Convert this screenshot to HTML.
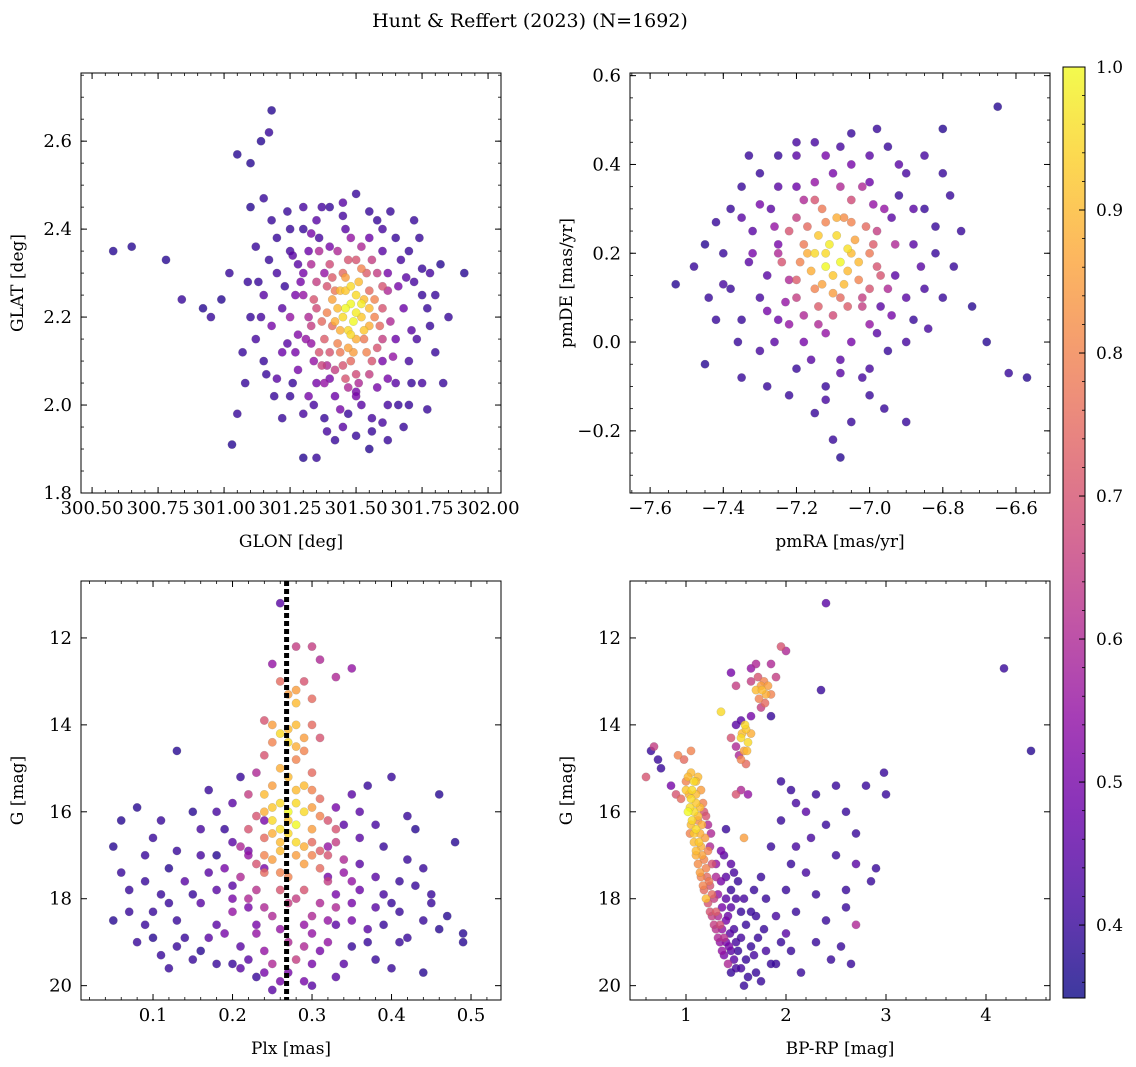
<!DOCTYPE html>
<html><head><meta charset="utf-8"><style>
html,body{margin:0;padding:0;background:#fff;}
svg{display:block;font-family:"DejaVu Serif","Liberation Serif",serif;}
</style></head><body>
<svg id="chart" xmlns="http://www.w3.org/2000/svg" width="1136" height="1067" viewBox="0 0 1136 1067">
<text x="530" y="27" text-anchor="middle" font-size="19">Hunt &amp; Reffert (2023) (N=1692)</text>
</svg>
<script>
// ---- data: [x, y, membership probability] ----
const skyPoints = [
[300.58,2.35,.38],[300.65,2.36,.38],[300.78,2.33,.38],[300.84,2.24,.4],[300.92,2.22,.38],[300.95,2.2,.4],[300.99,2.24,.38],[301.02,2.3,.4],[301.05,2.57,.38],[301.1,2.55,.38],[301.14,2.6,.38],[301.17,2.62,.4],[301.18,2.67,.38],[301.1,2.45,.38],[301.15,2.47,.4],[301.25,2.4,.4],[301.91,2.3,.38],[301.82,2.32,.38],[301.75,2.31,.4],[301.3,1.88,.38],[301.35,1.88,.4],[301.03,1.91,.38],[301.55,1.9,.38],
[301.2,2.38,.4],[301.25,2.35,.42],[301.3,2.4,.4],[301.35,2.42,.45],[301.4,2.45,.4],[301.45,2.43,.42],[301.55,2.44,.4],[301.6,2.4,.42],[301.65,2.38,.4],[301.7,2.35,.4],[301.72,2.28,.42],[301.75,2.25,.4],[301.78,2.18,.4],[301.8,2.12,.4],[301.75,2.05,.42],[301.7,2.0,.4],[301.68,1.95,.4],[301.6,1.96,.42],[301.5,1.93,.4],[301.45,1.95,.45],[301.38,1.97,.4],[301.3,1.98,.42],[301.25,2.02,.4],[301.2,2.06,.45],[301.15,2.1,.4],[301.12,2.15,.42],[301.1,2.2,.4],[301.15,2.25,.45],[301.2,2.3,.42],[301.18,2.18,.5],[301.22,2.12,.48],[301.28,2.08,.5],[301.3,2.3,.5],[301.32,2.35,.48],[301.27,2.25,.5],[301.25,2.2,.55],[301.6,2.1,.5],[301.65,2.15,.48],[301.62,2.3,.5],[301.68,2.22,.48],[301.58,2.04,.5],[301.52,2.0,.45],[301.42,2.02,.48],[301.35,2.05,.5],[301.6,2.35,.45],[301.4,2.36,.5],[301.7,2.1,.42],[301.72,2.42,.4],[301.08,2.05,.4],[301.05,1.98,.4],[301.22,1.97,.4],[301.42,1.92,.4],[301.62,1.92,.4],[301.85,2.2,.4],[301.78,2.3,.42],[301.12,2.36,.4],[301.18,2.42,.4],[301.5,2.48,.4],[301.33,2.14,.55],[301.65,2.05,.45],[301.55,2.38,.48],[301.38,2.3,.55],[301.28,2.16,.52],
[301.23,2.27,.4],[301.17,2.33,.4],[301.13,2.28,.4],[301.07,2.12,.4],[301.26,2.05,.4],[301.34,2.0,.42],[301.47,1.98,.4],[301.56,1.97,.42],[301.66,2.0,.4],[301.73,2.15,.42],[301.77,2.22,.4],[301.67,2.33,.42],[301.58,2.42,.4],[301.46,2.4,.45],[301.36,2.38,.42],[301.28,2.32,.45],[301.24,2.14,.45],[301.71,2.05,.4],[301.62,2.0,.42],[301.5,2.03,.5],[301.4,2.06,.5],
[301.35,2.28,.65],[301.4,2.32,.68],[301.5,2.33,.7],[301.58,2.3,.65],[301.6,2.22,.7],[301.6,2.15,.65],[301.56,2.1,.7],[301.5,2.07,.68],[301.42,2.08,.65],[301.36,2.12,.7],[301.33,2.18,.65],[301.34,2.24,.7],[301.45,2.3,.75],[301.55,2.26,.75],[301.38,2.15,.72],[301.48,2.1,.75],[301.53,2.15,.78],[301.42,2.26,.78],[301.62,2.26,.6],[301.32,2.2,.6],[301.44,2.12,.78],[301.57,2.2,.8],[301.39,2.21,.8],[301.46,2.06,.7],[301.54,2.3,.72],[301.37,2.09,.66],
[301.45,2.2,.95],[301.48,2.23,1],[301.5,2.25,.95],[301.52,2.2,.92],[301.47,2.17,.95],[301.43,2.22,.9],[301.5,2.15,.88],[301.53,2.24,.9],[301.46,2.26,.92],[301.49,2.19,1],[301.44,2.17,.88],[301.51,2.28,.9],[301.47,2.13,.86],[301.55,2.18,.88],[301.41,2.24,.86],[301.5,2.21,.98],
[301.3,2.25,.55],[301.31,2.15,.55],[301.33,2.32,.6],[301.36,2.35,.6],[301.39,2.27,.7],[301.41,2.18,.75],[301.43,2.14,.8],[301.45,2.09,.7],[301.47,2.04,.6],[301.51,2.05,.6],[301.55,2.07,.65],[301.58,2.13,.7],[301.59,2.18,.75],[301.57,2.24,.8],[301.56,2.33,.65],[301.52,2.36,.6],[301.48,2.38,.55],[301.43,2.35,.6],[301.4,2.12,.7],[301.38,2.05,.55],[301.35,2.22,.68],[301.37,2.19,.75],[301.46,2.29,.85],[301.52,2.31,.8],[301.54,2.12,.8],[301.49,2.12,.85],[301.42,2.19,.88],[301.44,2.26,.9],[301.53,2.17,.92],[301.55,2.22,.9],[301.48,2.27,.95],[301.46,2.22,1],[301.52,2.23,.98],[301.48,2.16,.95],[301.63,2.19,.6],[301.64,2.11,.55],[301.66,2.27,.5],[301.27,2.12,.5],[301.29,2.28,.5],[301.26,2.34,.45],[301.33,2.39,.5],[301.45,2.46,.45],[301.62,2.06,.5],[301.44,1.99,.5],[301.32,2.02,.5],[301.22,2.22,.45],[301.19,2.02,.4],[301.71,2.17,.45],[301.69,2.29,.45],[301.74,2.38,.4],[301.8,2.25,.4],[301.83,2.05,.4],[301.77,1.99,.4],[301.56,1.94,.4],[301.39,1.94,.42],[301.16,2.07,.4],[301.14,2.2,.42],[301.09,2.28,.4],[301.24,2.44,.4],[301.37,2.45,.42],[301.63,2.44,.4],[301.3,2.45,.42],[301.47,2.33,.7],[301.41,2.29,.72],[301.39,2.09,.6],[301.6,2.27,.7],[301.34,2.1,.55],[301.5,2.02,.5]
];
const pmPoints = [
[-7.53,.13,.38],[-7.45,-.05,.38],[-6.65,.53,.38],[-6.57,-.08,.38],[-6.62,-.07,.4],[-6.68,0.0,.38],[-6.8,.48,.38],[-7.08,-.26,.38],[-7.1,-.22,.4],[-6.75,.25,.4],[-6.72,.08,.38],[-7.45,.22,.38],[-7.4,.2,.4],[-7.38,.12,.4],[-6.9,-.18,.4],
[-7.3,.38,.4],[-7.25,.42,.4],[-7.15,.45,.42],[-7.05,.47,.4],[-6.95,.44,.4],[-6.9,.38,.42],[-6.85,.3,.4],[-6.82,.2,.4],[-6.85,.12,.42],[-6.88,.05,.4],[-6.95,-.02,.4],[-7.02,-.08,.42],[-7.12,-.1,.4],[-7.2,-.06,.4],[-7.3,-.02,.42],[-7.35,.05,.4],[-7.38,.3,.4],[-7.32,.25,.45],[-7.28,.15,.45],[-7.25,.05,.48],[-7.18,.0,.5],[-7.05,0.0,.5],[-6.97,.08,.45],[-6.93,.15,.45],[-6.94,.28,.45],[-7.0,.36,.48],[-7.1,.38,.5],[-7.2,.35,.48],[-7.27,.3,.45],[-7.3,.1,.42],[-7.22,-.12,.4],[-7.0,-.12,.4],[-6.9,.0,.42],[-6.8,.38,.4],[-7.35,.35,.4],[-7.42,.05,.4],[-7.35,-.08,.4],[-7.15,-.16,.4],[-7.0,.42,.45],[-7.2,.42,.45],[-6.88,.22,.45],[-7.33,.18,.45],[-7.25,.22,.5],[-6.98,.02,.45],[-7.12,.02,.55],[-7.23,.09,.55],[-6.92,.33,.4],[-7.08,-.04,.45],
[-7.2,.28,.65],[-7.15,.32,.7],[-7.05,.32,.68],[-6.98,.25,.65],[-6.97,.15,.7],[-7.02,.08,.65],[-7.1,.06,.68],[-7.2,.1,.65],[-7.24,.18,.7],[-7.18,.22,.78],[-7.0,.2,.78],[-7.08,.1,.75],[-7.15,.12,.8],[-7.05,.27,.8],[-7.22,.25,.7],[-6.99,.22,.72],[-7.13,.3,.78],[-7.03,.14,.8],
[-7.12,.2,.95],[-7.08,.18,1],[-7.1,.15,.92],[-7.05,.2,.9],[-7.14,.24,.92],[-7.09,.24,.95],[-7.16,.16,.88],[-7.06,.16,.9],[-7.11,.22,.98],[-7.13,.13,.86],[-7.04,.23,.86],[-7.17,.2,.88],
[-7.25,.2,.6],[-7.22,.14,.6],[-7.18,.06,.6],[-7.14,.04,.6],[-7.0,.04,.55],[-6.95,.12,.6],[-6.93,.22,.6],[-6.96,.3,.55],[-7.02,.35,.6],[-7.08,.35,.6],[-7.18,.32,.6],[-7.26,.26,.55],[-7.12,.27,.8],[-7.07,.28,.82],[-7.01,.26,.75],[-7.19,.18,.8],[-7.17,.26,.75],[-7.0,.12,.7],[-7.06,.08,.72],[-7.14,.08,.72],[-7.2,.14,.72],[-7.1,.11,.85],[-7.03,.18,.9],[-7.15,.2,.95],[-7.07,.13,.9],[-7.12,.17,1],[-7.06,.21,.96],[-7.09,.28,.88],[-7.02,.1,.65],[-7.15,.36,.55],[-7.28,.07,.5],[-7.32,.2,.5],[-7.35,.28,.45],[-7.25,.35,.45],[-7.12,.42,.5],[-7.05,.4,.5],[-6.92,.4,.45],[-6.88,.3,.45],[-6.86,.17,.45],[-6.9,.1,.45],[-6.94,.06,.5],[-7.08,-.07,.45],[-7.16,-.04,.45],[-7.26,0.0,.45],[-7.36,.0,.4],[-7.4,.13,.42],[-7.42,.27,.4],[-7.33,.42,.4],[-7.2,.45,.42],[-7.08,.44,.42],[-6.98,.48,.4],[-6.85,.42,.42],[-6.82,.26,.4],[-6.8,.1,.4],[-6.84,.03,.42],[-7.0,-.06,.42],[-7.12,-.13,.42],[-7.28,-.1,.4],[-6.96,-.15,.4],[-7.05,-.18,.4],[-6.78,.33,.4],[-6.77,.17,.4],[-7.48,.17,.4],[-7.44,.1,.4],[-7.3,.31,.5],[-6.99,.31,.55],[-7.22,.04,.55],[-6.98,.17,.7]
];
const plxPoints = [
[.05,16.8,.38],[.06,16.2,.38],[.07,18.3,.4],[.08,15.9,.38],[.09,17.6,.4],[.1,18.9,.38],[.1,16.6,.4],[.12,17.3,.38],[.12,19.6,.4],[.13,14.6,.38],[.13,18.5,.4],[.15,16.0,.38],[.15,17.9,.4],[.16,19.2,.38],[.17,15.5,.4],[.18,17.0,.38],[.18,18.6,.45],[.19,16.4,.4],[.2,19.5,.4],[.2,17.7,.45],[.21,15.2,.4],[.22,18.2,.5],[.22,16.9,.5],[.23,19.8,.4],[.24,17.3,.5],[.32,17.5,.5],[.33,18.6,.45],[.34,16.3,.45],[.35,19.1,.4],[.36,17.2,.45],[.37,15.4,.4],[.38,18.2,.45],[.39,16.8,.4],[.4,19.6,.4],[.41,17.6,.4],[.42,18.9,.4],[.43,16.4,.38],[.44,19.7,.38],[.45,17.9,.4],[.46,15.6,.38],[.47,18.4,.38],[.48,16.7,.38],[.49,18.8,.38],[.49,19.0,.38],[.45,18.1,.4],[.4,15.2,.4],
[.08,19.0,.4],[.11,17.9,.4],[.14,18.9,.4],[.16,18.1,.45],[.17,17.4,.45],[.19,18.8,.5],[.21,19.1,.45],[.2,16.7,.45],[.23,18.6,.5],[.24,16.2,.5],[.31,19.2,.5],[.32,16.8,.55],[.33,17.9,.5],[.34,19.5,.45],[.35,18.1,.5],[.36,16.6,.45],[.37,19.0,.4],[.38,17.5,.45],[.39,18.6,.4],[.41,18.3,.4],[.42,17.1,.4],[.44,18.5,.4],[.3,20.0,.45],[.27,19.7,.5],[.25,20.1,.45],[.22,19.4,.45],[.18,19.5,.4],[.13,19.1,.4],[.1,18.3,.4],[.3,18.8,.55],
[.26,11.2,.45],[.25,12.6,.55],[.28,12.2,.65],[.3,12.2,.65],[.31,12.5,.6],[.33,12.9,.6],[.35,12.7,.55],[.29,13.0,.7],[.27,13.3,.85],[.28,13.5,.9],[.26,13.0,.75],[.25,14.4,.8],[.26,14.2,.95],[.27,14.1,.9],[.28,14.5,.88],[.29,14.3,.85],[.3,14.0,.75],[.24,14.7,.7],[.31,14.3,.7],
[.22,15.6,.65],[.23,16.1,.7],[.24,16.6,.75],[.25,15.4,.85],[.26,15.8,.95],[.27,16.2,.92],[.28,15.5,.9],[.29,16.0,.95],[.3,16.4,.85],[.31,15.7,.75],[.32,16.2,.7],[.33,16.7,.65],[.25,17.1,.85],[.26,16.9,.9],[.28,16.7,.95],[.29,17.2,.85],[.3,17.0,.8],[.27,17.5,.8],[.24,17.4,.75],[.31,17.3,.75],[.26,17.8,.7],[.29,17.8,.7],[.23,17.2,.7],[.32,17.6,.65],[.27,15.2,.9],[.25,15.9,.92],[.28,16.3,1],[.26,16.4,.96],[.29,16.8,.88],[.24,16.0,.88],[.3,15.5,.8],[.31,16.9,.72],[.27,18.1,.65],[.3,18.4,.6],[.24,18.2,.6],[.26,18.7,.55],[.29,19.1,.6],[.25,19.5,.6],[.28,19.4,.65],[.22,18.0,.6],[.33,18.2,.6],[.34,17.1,.6],[.21,16.8,.6],[.2,18.3,.55],[.35,17.6,.55],[.32,19.0,.55],[.23,15.1,.6],[.3,15.1,.75],[.28,14.8,.8],[.26,15.0,.88],
[.24,15.6,.9],[.25,16.2,.95],[.26,16.7,.9],[.27,16.0,1],[.28,15.8,.95],[.29,15.4,.9],[.3,15.9,.85],[.31,16.1,.8],[.28,17.0,.85],[.27,16.5,.95],[.25,16.5,.88],[.24,17.0,.8],[.26,17.4,.8],[.3,16.7,.75],[.32,17.0,.7],[.33,16.4,.7],[.22,16.4,.7],[.21,17.5,.6],[.23,17.8,.62],[.28,18.0,.65],[.31,18.1,.6],[.25,18.4,.6],[.29,18.6,.55],[.32,18.5,.55],[.23,18.8,.55],[.27,19.0,.6],[.24,19.2,.55],[.3,19.5,.5],[.26,19.9,.5],[.28,14.0,.9],[.27,14.4,.95],[.25,14.0,.85],[.29,14.6,.8],[.3,13.4,.75],[.28,13.2,.85],[.24,13.9,.7],
[.06,17.4,.4],[.09,18.6,.4],[.11,19.3,.4],[.12,18.1,.4],[.14,17.6,.45],[.15,19.4,.4],[.16,17.0,.42],[.17,18.9,.45],[.18,16.0,.42],[.19,17.3,.5],[.2,18.0,.5],[.21,19.6,.45],[.22,17.0,.55],[.35,18.5,.5],[.36,17.8,.48],[.37,18.7,.45],[.38,19.4,.4],[.39,17.9,.42],[.4,18.1,.4],[.41,19.0,.4],[.43,17.7,.4],[.44,17.3,.4],[.46,18.7,.38],[.34,17.4,.55],[.36,16.0,.45],[.33,15.9,.5],[.35,15.6,.45],[.2,15.8,.45],[.18,17.8,.45],[.13,16.9,.4],[.11,16.2,.4],[.09,17.0,.4],[.07,17.8,.4],[.05,18.5,.38],[.42,16.1,.4],[.38,16.3,.42],[.16,16.4,.42],[.24,19.7,.5],[.33,19.8,.45],[.29,19.9,.5]
];
const cmdPoints = [
[2.4,11.2,.45],[4.18,12.7,.4],[4.45,14.6,.38],[.6,15.2,.7],[.68,14.5,.65],[.65,14.6,.4],[.72,14.8,.4],[.75,15.0,.4],[.85,15.4,.5],[.9,15.6,.7],[.95,15.7,.75],[.92,14.7,.8],[.98,14.8,.75],[1.05,14.6,.8],
[1.05,15.1,.9],[1.08,15.3,.95],[1.12,15.2,.9],[1.0,15.5,.92],[1.05,15.7,.95],[1.1,15.6,.9],[1.15,15.5,.85],[1.02,16.0,1],[1.08,16.0,.95],[1.14,15.9,.9],[1.05,16.3,.9],[1.1,16.4,.95],[1.16,16.3,.88],[1.08,16.7,.9],[1.13,16.7,.92],[1.19,16.6,.85],[1.1,17.0,.88],[1.16,17.0,.86],[1.22,16.9,.8],[1.14,17.4,.85],[1.2,17.3,.8],[1.26,17.2,.7],[1.17,17.7,.8],[1.23,17.6,.78],[1.3,17.5,.6],[1.2,18.0,.9],[1.26,17.9,.75],[1.32,17.9,.55],[1.24,18.3,.7],[1.3,18.3,.72],[1.36,18.2,.5],[1.28,18.6,.65],[1.34,18.6,.68],[1.4,18.5,.5],[1.32,18.9,.6],[1.38,18.9,.62],[1.44,18.8,.45],[1.36,19.2,.55],[1.43,19.1,.5],[1.5,19.0,.42],[1.42,19.5,.6],[1.48,19.4,.45],[1.04,16.5,.8],[1.12,16.2,.82],[1.18,16.0,.7],[1.0,15.3,.8],[1.22,16.3,.6],[1.25,16.5,.6],[1.4,17.5,.45],[1.45,17.8,.4],[1.5,18.0,.42],[1.55,18.3,.4],[1.45,18.2,.45],[1.6,18.6,.4],[1.55,18.9,.42],[1.65,19.1,.4],[1.5,19.6,.42],[1.6,19.4,.4],[1.7,19.7,.4],[1.58,20.0,.4],[1.75,19.9,.4],[1.38,17.0,.45],[1.48,17.4,.42],
[1.55,14.3,.95],[1.6,14.1,.92],[1.62,14.4,.95],[1.58,14.6,.85],[1.65,14.2,.88],[1.55,14.8,.8],[1.6,14.9,.75],[1.5,14.5,.6],[1.45,14.3,.7],[1.35,13.7,.95],[1.7,13.2,.9],[1.75,13.1,.85],[1.8,13.3,.88],[1.78,13.0,.8],[1.72,12.9,.7],[1.85,13.3,.8],[1.65,13.0,.65],[1.9,12.9,.65],[1.95,12.2,.7],[2.0,12.3,.6],[1.85,12.6,.6],[1.65,12.7,.55],[1.7,12.6,.6],[1.5,13.1,.65],[1.45,12.8,.5],[1.75,13.6,.65],[1.65,13.8,.5],[1.5,14.0,.45],[1.55,15.5,.6],[1.5,15.6,.7],[1.58,16.6,.85],[1.4,16.4,.4],
[1.95,15.3,.4],[2.05,15.5,.4],[2.1,15.8,.42],[2.3,15.6,.4],[2.5,15.4,.4],[2.6,16.0,.4],[2.8,15.4,.4],[2.98,15.1,.4],[3.0,15.6,.4],[2.7,16.5,.4],[2.4,16.3,.4],[2.25,16.6,.42],[2.1,16.8,.42],[1.95,16.2,.4],[1.85,16.8,.4],[2.05,17.2,.4],[2.2,17.4,.42],[2.5,17.0,.4],[2.7,17.2,.45],[2.9,17.3,.4],[2.85,17.6,.4],[2.6,17.8,.4],[2.3,17.9,.4],[2.0,17.8,.4],[1.8,18.0,.4],[1.9,18.4,.42],[2.1,18.3,.4],[2.4,18.5,.4],[2.7,18.6,.6],[2.55,19.1,.4],[2.3,19.0,.4],[2.05,19.2,.4],[1.9,19.5,.4],[2.15,19.7,.4],[2.45,19.4,.4],[2.65,19.5,.4],[1.8,19.2,.42],[2.0,18.8,.45],[1.7,18.4,.4],[2.35,13.2,.4],[1.85,13.8,.4],[2.2,16.0,.45],[2.6,18.2,.4],[1.75,17.5,.4],
[1.02,15.2,.9],[1.06,15.5,.95],[1.1,15.8,.92],[1.04,15.9,.95],[1.12,16.1,.9],[1.06,16.2,.95],[1.14,16.5,.88],[1.08,16.5,.92],[1.1,16.9,.9],[1.15,16.8,.88],[1.12,17.2,.82],[1.18,17.1,.8],[1.15,17.5,.8],[1.21,17.5,.75],[1.18,17.8,.75],[1.24,17.7,.7],[1.22,18.1,.7],[1.28,18.0,.65],[1.26,18.4,.65],[1.32,18.4,.6],[1.3,18.7,.62],[1.36,18.7,.55],[1.34,19.0,.55],[1.4,19.0,.5],[1.38,19.3,.5],[1.45,19.2,.45],[1.1,15.3,.9],[1.03,15.6,.88],[1.17,15.8,.8],[1.2,16.1,.7],[1.24,16.8,.6],[1.3,17.2,.55],[1.35,17.6,.5],[1.4,18.0,.45],[1.42,18.4,.48],[1.48,18.7,.42],[1.52,19.2,.4],[1.55,19.6,.42],[1.45,19.7,.4],[1.62,19.8,.4],[1.68,19.3,.42],[1.72,18.9,.4],[1.65,18.3,.4],[1.58,18.0,.42],[1.52,17.6,.4],[1.45,17.2,.45],[1.35,16.9,.5],[1.78,18.7,.4],[1.85,19.5,.4],[1.95,19.0,.4],[1.68,17.8,.4],[1.62,15.6,.55],[1.56,14.2,.9],[1.61,14.6,.9],[1.59,14.0,.95],[1.76,13.2,.9],[1.82,13.1,.85],[1.73,13.4,.8],[1.79,13.5,.75],[1.55,13.9,.45],[1.53,14.7,.6]
];
// ---- ticks ----
const skyXTicks=[300.5,300.75,301.0,301.25,301.5,301.75,302.0];
const skyXLabels=["300.50","300.75","301.00","301.25","301.50","301.75","302.00"];
const skyYTicks=[1.8,2.0,2.2,2.4,2.6];
const pmXTicks=[-7.6,-7.4,-7.2,-7.0,-6.8,-6.6];
const pmYTicks=[-0.2,0.0,0.2,0.4,0.6];
const plxXTicks=[0.1,0.2,0.3,0.4,0.5];
const gTicks=[12,14,16,18,20];
const cmdXTicks=[1,2,3,4];
const cbTicks=[0.4,0.5,0.6,0.7,0.8,0.9,1.0];
const plxLine=0.268;

const NS="http://www.w3.org/2000/svg";
const svg=document.getElementById('chart');
function el(tag,attrs,parent){const e=document.createElementNS(NS,tag);for(const k in attrs)e.setAttribute(k,attrs[k]);(parent||svg).appendChild(e);return e;}
const stops=[[13,8,135],[65,4,157],[106,0,168],[143,13,164],[177,42,144],[204,71,120],[225,100,98],[242,132,75],[252,166,54],[252,206,37],[240,249,33]];
const PMIN=0.349,PMAX=1.0;
function plasma(p){let t=(p-PMIN)/(PMAX-PMIN);t=Math.max(0,Math.min(1,t))*10;const i=Math.min(9,Math.floor(t)),f=t-i;const a=stops[i],b=stops[i+1];return 'rgb('+a.map((v,k)=>Math.round(v+(b[k]-v)*f)).join(',')+')';}
function fmt(v,d){return v.toFixed(d).replace('-','\u2212');}

function panel(name,box,xlim,ylim,xTicks,xLabels,xMinor,yTicks,yDec,yMinor,xlabel,ylabel,pts,xDec){
  const [L,T,R,B]=box;
  const sx=v=>L+(v-xlim[0])/(xlim[1]-xlim[0])*(R-L);
  const sy=v=>B-(v-ylim[0])/(ylim[1]-ylim[0])*(B-T);
  const g=el('g',{});
  
  
  const marks=el('g',{},g);
  
  
  const sorted=pts.slice().sort((a,b)=>a[2]-b[2]);
  sorted.forEach(d=>{const c=el('circle',{cx:sx(d[0]).toFixed(1),cy:sy(d[1]).toFixed(1),r:4.2,fill:plasma(d[2]),'fill-opacity':0.8,stroke:'#777','stroke-width':0.3,'stroke-opacity':0.6},marks);
    
    });
  const fr=el('rect',{x:L,y:T,width:R-L,height:B-T,fill:'none',stroke:'#000','stroke-width':1},g);
  
  
  for(let v=Math.ceil(xlim[0]/xMinor)*xMinor;v<=xlim[1];v+=xMinor){const x=sx(v);el('line',{x1:x,x2:x,y1:B,y2:B-3,stroke:'#000','stroke-width':0.8},g);el('line',{x1:x,x2:x,y1:T,y2:T+3,stroke:'#000','stroke-width':0.8},g);}
  for(let v=Math.ceil(ylim[0]/yMinor)*yMinor;v<=ylim[1];v+=yMinor){const y=sy(v);el('line',{x1:L,x2:L+3,y1:y,y2:y,stroke:'#000','stroke-width':0.8},g);el('line',{x1:R,x2:R-3,y1:y,y2:y,stroke:'#000','stroke-width':0.8},g);}
  xTicks.forEach((v,i)=>{const x=sx(v);el('line',{x1:x,x2:x,y1:B,y2:B-6,stroke:'#000','stroke-width':1},g);el('line',{x1:x,x2:x,y1:T,y2:T+6,stroke:'#000','stroke-width':1},g);
    const t=el('text',{x:x,y:B+21,'text-anchor':'middle','font-size':18},g);t.textContent=xLabels?xLabels[i]:fmt(v,xDec);
    
    });
  yTicks.forEach(v=>{const y=sy(v);el('line',{x1:L,x2:L+6,y1:y,y2:y,stroke:'#000','stroke-width':1},g);el('line',{x1:R,x2:R-6,y1:y,y2:y,stroke:'#000','stroke-width':1},g);
    const t=el('text',{x:L-9,y:y+6,'text-anchor':'end','font-size':18},g);t.textContent=fmt(v,yDec);
    
    });
  const xl=el('text',{x:(L+R)/2,y:B+54,'text-anchor':'middle','font-size':17},g);xl.textContent=xlabel;
  
  
  const yx=L-58;
  const yl=el('text',{x:yx,y:(T+B)/2,'text-anchor':'middle','font-size':17,transform:'rotate(-90 '+yx+' '+(T+B)/2+')'},g);yl.textContent=ylabel;
  
  
  return {sx,sy,g};
}
panel('sky',[81,73,501,493],[300.458,302.049],[1.8,2.755],skyXTicks,skyXLabels,0.05,skyYTicks,1,0.05,'GLON [deg]','GLAT [deg]',skyPoints);
panel('proper-motion',[630,73,1050,493],[-7.655,-6.507],[-0.34,0.606],pmXTicks,null,0.05,pmYTicks,1,0.05,'pmRA [mas/yr]','pmDE [mas/yr]',pmPoints,1);
const p3=panel('parallax',[81,581,501,1000],[0.0094,0.5377],[20.33,10.69],plxXTicks,null,0.02,gTicks,0,0.5,'Plx [mas]','G [mag]',plxPoints,1);
const pl=el('line',{x1:p3.sx(plxLine),x2:p3.sx(plxLine),y1:581,y2:1000,stroke:'#000','stroke-width':5,'stroke-dasharray':'5 3'});


panel('cmd',[630,581,1050,1000],[0.44,4.64],[20.33,10.69],cmdXTicks,null,0.2,gTicks,0,0.5,'BP-RP [mag]','G [mag]',cmdPoints,0);
// colorbar
const cbL=1063,cbR=1085,cbT=67,cbB=998;
const cby=v=>cbB-(v-PMIN)/(PMAX-PMIN)*(cbB-cbT);
const cg=el('g',{});


const defs=el('defs',{},cg);
const lg=el('linearGradient',{id:'cbg',x1:0,y1:1,x2:0,y2:0},defs);
for(let i=0;i<=20;i++){const p=PMIN+(PMAX-PMIN)*i/20;el('stop',{offset:(i/20),'stop-color':plasma(p)},lg);}
el('rect',{x:cbL,y:cbT,width:cbR-cbL,height:cbB-cbT,fill:'url(#cbg)','fill-opacity':0.8},cg);
el('rect',{x:cbL,y:cbT,width:cbR-cbL,height:cbB-cbT,fill:'none',stroke:'#000','stroke-width':1},cg);
for(let v=0.36;v<=1.0001;v+=0.02){const y=cby(v);el('line',{x1:cbR,x2:cbR-3,y1:y,y2:y,stroke:'#000','stroke-width':0.8},cg);}
cbTicks.forEach(v=>{const y=cby(v);el('line',{x1:cbR,x2:cbR-6,y1:y,y2:y,stroke:'#000','stroke-width':1},cg);
  const t=el('text',{x:cbR+11,y:y+6,'font-size':17},cg);t.textContent=v.toFixed(1);
  
  });
</script>
</body></html>
